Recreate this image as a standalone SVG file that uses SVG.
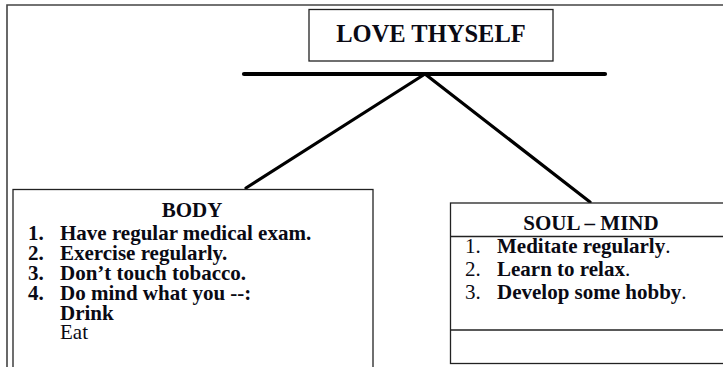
<svg xmlns="http://www.w3.org/2000/svg" width="723" height="367" viewBox="0 0 723 367">
  <style>
    .box { fill: #fff; stroke: #222; stroke-width: 1.3; }
    .rule { stroke: #222; stroke-width: 1.3; fill: none; }
    .frame { stroke: #444; stroke-width: 1.6; fill: none; }
    .link { stroke: #000; stroke-width: 3.2; stroke-linecap: round; fill: none; }
    .bar { stroke: #000; stroke-width: 4.2; stroke-linecap: round; fill: none; }
    text { font-family: "Liberation Serif", "Times New Roman", serif; fill: #0a0a14; font-size: 21px; }
    .b { font-weight: bold; }
    .title { font-size: 24.5px; font-weight: bold; }
  </style>
  <rect width="723" height="367" fill="#fff"/>

  <!-- page frame -->
  <path class="frame" d="M7 367 V5 H723"/>

  <!-- connectors -->
  <g id="connectors">
    <line class="bar" x1="244" y1="74" x2="605" y2="74"/>
    <line class="link" x1="425" y1="74" x2="246" y2="188"/>
    <line class="link" x1="425" y1="74" x2="590" y2="202"/>
  </g>

  <g id="love-thyself">
    <rect class="box" x="309" y="9.5" width="244" height="51.5"/>
    <text class="title" x="431" y="41.5" text-anchor="middle">LOVE THYSELF</text>
  </g>

  <g id="body">
    <rect class="box" x="13" y="189.5" width="360" height="190"/>
    <text class="b" x="192" y="216.5" text-anchor="middle">BODY</text>
    <text class="b" x="28" y="240">1.</text>
    <text class="b" x="60" y="240">Have regular medical exam.</text>
    <text class="b" x="28" y="260">2.</text>
    <text class="b" x="60" y="260">Exercise regularly.</text>
    <text class="b" x="28" y="280">3.</text>
    <text class="b" x="60" y="280">Don’t touch tobacco.</text>
    <text class="b" x="28" y="300">4.</text>
    <text class="b" x="60" y="300">Do mind what you --:</text>
    <text class="b" x="60" y="320">Drink</text>
    <text x="60" y="339">Eat</text>
  </g>

  <g id="soul-mind">
    <rect class="box" x="450.5" y="203" width="290" height="160.5"/>
    <line class="rule" x1="450.5" y1="236.5" x2="723" y2="236.5"/>
    <line class="rule" x1="450.5" y1="330" x2="723" y2="330"/>
    <text class="b" x="591" y="229.5" text-anchor="middle">SOUL – MIND</text>
    <text x="465" y="253">1.</text>
    <text x="497" y="253"><tspan class="b">Meditate regularly</tspan>.</text>
    <text x="465" y="276">2.</text>
    <text x="497" y="276"><tspan class="b">Learn to relax</tspan>.</text>
    <text x="465" y="298.5">3.</text>
    <text x="497" y="298.5"><tspan class="b">Develop some hobby</tspan>.</text>
  </g>
</svg>
